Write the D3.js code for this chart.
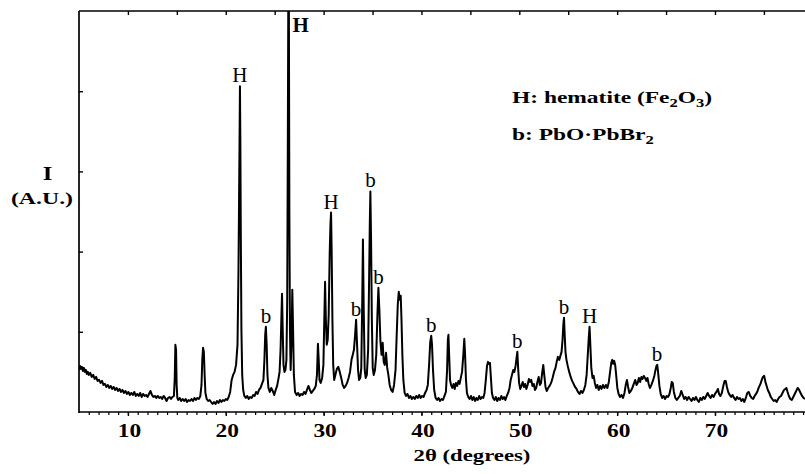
<!DOCTYPE html>
<html><head><meta charset="utf-8">
<script src="https://cdn.jsdelivr.net/npm/d3@7"></script>
<style>body{margin:0;background:#fff}</style>
</head><body><svg id="c" width="805" height="474"></svg>
<script>
// XRD scan: [2theta (deg), intensity (a.u.)]
const scan = [
[5.00,42],[5.10,46],[5.20,43],[5.30,45],[5.40,41],[5.50,44],[5.60,40],[5.70,42],[5.80,38],[5.90,40],
[6.00,37],[6.15,39],[6.30,35],[6.45,37],[6.60,33],[6.75,35],[6.90,31],[7.05,32],[7.20,29],[7.35,31],
[7.50,27],[7.65,28],[7.80,25],[7.95,27],[8.10,24],[8.25,26],[8.40,23],[8.55,25],[8.70,22],[8.85,24],
[9.00,21],[9.15,23],[9.30,20],[9.45,22],[9.60,19],[9.75,21],[9.90,18],[10.05,20],[10.20,17],[10.35,19],
[10.50,17],[10.65,20],[10.80,16],[10.95,18],[11.10,16],[11.25,19],[11.40,15],[11.55,18],[11.70,16],[11.85,17],
[12.00,15],[12.15,18],[12.30,21],[12.45,17],[12.60,15],[12.75,16],[12.90,14],[13.05,16],[13.20,14],[13.35,15],
[13.50,13],[13.65,16],[13.80,14],[13.95,11],[14.10,14],[14.25,15],[14.40,13],[14.55,15],[14.70,16],
[14.78,32],[14.85,67],[14.92,62],[14.98,27],[15.05,14],[15.15,12],[15.30,14],[15.45,11],[15.60,13],[15.75,11],
[15.90,13],[16.05,10],[16.20,12],[16.35,11],[16.50,13],[16.65,11],[16.80,14],[16.95,12],[17.10,14],[17.25,13],
[17.40,16],[17.52,27],[17.60,52],[17.68,64],[17.76,60],[17.84,37],[17.92,19],[18.05,13],[18.20,11],[18.35,12],
[18.50,10],[18.65,8],[18.80,10],[18.95,8],[19.10,11],[19.25,9],[19.40,12],[19.55,10],[19.70,12],[19.85,11],
[20.00,13],[20.15,12],[20.30,15],[20.45,20],[20.60,32],[20.75,37],[20.90,40],[21.05,47],[21.20,67],[21.30,142],
[21.36,212],[21.41,272],[21.45,325],[21.49,272],[21.54,172],[21.60,82],[21.68,37],[21.78,22],[21.90,16],[22.05,14],
[22.20,16],[22.35,13],[22.50,15],[22.65,14],[22.80,17],[22.95,16],[23.10,20],[23.25,18],[23.40,22],[23.55,24],
[23.70,28],[23.85,32],[23.95,52],[24.03,77],[24.10,85],[24.18,67],[24.26,37],[24.36,24],[24.50,20],[24.65,24],
[24.80,21],[24.95,17],[25.10,22],[25.25,26],[25.40,34],[25.50,40],[25.60,62],[25.68,92],[25.75,118],[25.82,82],
[25.90,47],[26.00,40],[26.10,42],[26.20,52],[26.28,112],[26.34,262],[26.39,407],[26.45,407],[26.50,199],[26.56,82],
[26.63,42],[26.72,72],[26.80,122],[26.88,82],[26.96,37],[27.08,20],[27.25,17],[27.40,19],[27.55,16],[27.70,18],
[27.85,17],[28.00,20],[28.15,18],[28.30,22],[28.45,26],[28.60,22],[28.75,19],[28.90,21],[29.05,23],[29.20,26],
[29.32,37],[29.42,68],[29.50,52],[29.58,32],[29.70,29],[29.85,34],[29.98,47],[30.07,92],[30.15,130],[30.23,92],
[30.32,67],[30.42,72],[30.52,97],[30.62,157],[30.70,187],[30.76,199],[30.82,162],[30.90,92],[30.98,47],[31.08,32],
[31.20,37],[31.35,43],[31.50,45],[31.65,40],[31.80,34],[31.95,27],[32.10,24],[32.25,26],[32.40,29],[32.55,34],
[32.70,40],[32.85,52],[32.98,57],[33.10,62],[33.22,77],[33.32,92],[33.42,67],[33.52,42],[33.62,32],[33.75,34],
[33.85,44],[33.95,112],[34.02,172],[34.10,102],[34.20,42],[34.30,34],[34.42,37],[34.55,62],[34.65,132],[34.72,187],
[34.78,220],[34.85,172],[34.93,92],[35.02,44],[35.12,37],[35.25,42],[35.38,57],[35.50,97],[35.60,124],[35.70,102],
[35.80,72],[35.92,57],[36.04,69],[36.14,50],[36.25,47],[36.38,59],[36.50,44],[36.62,37],[36.75,27],[36.90,22],
[37.05,20],[37.20,27],[37.35,42],[37.47,77],[37.58,107],[37.68,120],[37.78,112],[37.88,116],[37.96,92],[38.05,57],
[38.15,32],[38.28,19],[38.42,16],[38.57,18],[38.72,14],[38.87,16],[39.02,13],[39.17,15],[39.32,13],[39.47,16],
[39.62,14],[39.77,17],[39.92,14],[40.07,16],[40.22,15],[40.37,19],[40.52,22],[40.65,27],[40.78,47],[40.90,70],
[41.00,76],[41.08,67],[41.18,42],[41.30,22],[41.45,14],[41.60,12],[41.75,14],[41.90,11],[42.05,13],[42.20,12],
[42.35,16],[42.50,20],[42.62,42],[42.70,72],[42.76,77],[42.83,57],[42.92,32],[43.02,27],[43.15,24],[43.28,28],
[43.40,23],[43.52,29],[43.65,26],[43.78,31],[43.90,28],[44.02,34],[44.15,40],[44.28,57],[44.38,73],[44.46,57],
[44.55,32],[44.65,19],[44.78,15],[44.92,13],[45.06,16],[45.20,12],[45.34,15],[45.48,11],[45.62,14],[45.76,12],
[45.90,16],[46.04,13],[46.18,15],[46.32,14],[46.45,19],[46.58,32],[46.70,46],[46.80,50],[46.90,48],[47.00,49],
[47.10,34],[47.20,19],[47.32,14],[47.46,12],[47.60,15],[47.74,11],[47.88,14],[48.02,12],[48.16,16],[48.30,13],
[48.44,15],[48.58,12],[48.72,16],[48.86,19],[49.00,24],[49.12,32],[49.25,37],[49.38,42],[49.50,40],[49.62,46],
[49.72,54],[49.80,60],[49.88,44],[49.98,29],[50.10,23],[50.22,26],[50.35,30],[50.48,25],[50.60,28],[50.72,23],
[50.85,27],[50.98,33],[51.10,30],[51.22,32],[51.35,26],[51.48,28],[51.60,22],[51.72,24],[51.85,30],[51.98,35],
[52.10,27],[52.22,29],[52.35,40],[52.45,47],[52.55,37],[52.68,25],[52.80,21],[52.95,24],[53.10,26],[53.25,29],
[53.40,34],[53.55,40],[53.70,44],[53.82,50],[53.95,55],[54.08,52],[54.20,56],[54.32,60],[54.42,72],[54.50,87],
[54.57,94],[54.64,77],[54.72,60],[54.82,52],[54.95,46],[55.10,40],[55.25,35],[55.40,31],[55.55,28],[55.70,25],
[55.85,23],[56.00,20],[56.15,18],[56.30,21],[56.45,19],[56.60,22],[56.75,27],[56.88,37],[57.00,57],[57.10,74],
[57.18,85],[57.26,67],[57.36,44],[57.48,34],[57.60,36],[57.72,29],[57.85,24],[57.98,27],[58.12,22],[58.26,26],
[58.40,23],[58.55,27],[58.70,24],[58.85,27],[59.00,24],[59.15,30],[59.28,40],[59.40,49],[59.50,52],[59.60,48],
[59.70,51],[59.80,47],[59.90,37],[60.02,24],[60.15,18],[60.30,15],[60.45,17],[60.60,14],[60.75,19],[60.88,27],
[61.00,32],[61.12,25],[61.25,19],[61.40,21],[61.55,24],[61.70,28],[61.85,32],[61.98,27],[62.10,29],[62.22,34],
[62.35,30],[62.48,35],[62.60,33],[62.72,36],[62.85,34],[62.98,31],[63.10,34],[63.22,28],[63.35,24],[63.50,27],
[63.65,31],[63.80,36],[63.92,42],[64.02,46],[64.10,47],[64.20,38],[64.32,26],[64.45,18],[64.60,14],[64.75,16],
[64.90,13],[65.05,16],[65.20,15],[65.35,18],[65.48,24],[65.58,30],[65.68,29],[65.80,20],[65.95,14],[66.10,12],
[66.25,14],[66.40,16],[66.55,21],[66.70,17],[66.85,13],[67.00,15],[67.15,12],[67.30,15],[67.45,13],[67.60,11],
[67.75,14],[67.90,12],[68.05,15],[68.20,12],[68.35,10],[68.50,14],[68.65,12],[68.80,15],[68.95,13],[69.10,16],
[69.25,19],[69.40,16],[69.55,14],[69.70,17],[69.85,15],[70.00,18],[70.15,20],[70.30,23],[70.42,18],[70.55,16],
[70.70,19],[70.85,26],[70.98,31],[71.10,31],[71.22,25],[71.35,20],[71.50,17],[71.65,15],[71.80,17],[71.95,14],
[72.10,12],[72.25,15],[72.40,13],[72.55,14],[72.70,11],[72.85,13],[73.00,10],[73.15,14],[73.30,19],[73.45,20],
[73.60,16],[73.75,14],[73.90,13],[74.05,16],[74.20,18],[74.35,21],[74.50,25],[74.65,28],[74.78,32],[74.90,35],
[75.03,36],[75.15,30],[75.28,26],[75.40,22],[75.55,19],[75.70,15],[75.85,13],[76.00,11],[76.15,12],[76.30,10],
[76.45,13],[76.60,15],[76.75,16],[76.90,19],[77.05,22],[77.18,23],[77.30,24],[77.42,20],[77.55,16],[77.70,13],
[77.85,12],[78.00,15],[78.15,18],[78.30,21],[78.45,24],[78.60,22],[78.75,19],[78.90,16],[79.05,14],[79.20,13]
];

// Phase labels above peaks
const peakLabelText  = ["H", "H", "H", "b", "b", "b", "b", "b", "b", "b", "H", "b"];
const peakLabelTheta = [21.45, 26.42, 30.76, 34.78, 24.10, 33.32, 35.60, 41.00, 49.80, 54.57, 57.18, 64.08];

const xTickValues = [10, 20, 30, 40, 50, 60, 70];
const yTickValues = [80, 160, 240, 320];

const legendH = ["H: hematite (Fe", "2", "O", "3", ")"];
const legendB = ["b: PbO\u00B7PbBr", "2"];
const xTitle = "2\u03B8 (degrees)";
const yTitle = ["I", "(A.U.)"];

const svg = d3.select("#c");
const L = 79, R = 805, T = 11, B = 412;
const x = d3.scaleLinear().domain([5, 79.2]).range([L, R]);
const y = d3.scaleLinear().domain([0, 400]).range([B, T]);
const serif = "'Liberation Serif','Times New Roman',serif";
const SX = 1.3;

svg.append("defs").append("clipPath").attr("id", "pc")
  .append("rect").attr("x", L).attr("y", T).attr("width", R - L).attr("height", B - T);

// frame lines
svg.append("line").attr("x1", L).attr("x2", R).attr("y1", T).attr("y2", T)
  .attr("stroke", "#000").attr("stroke-width", 1.7);
svg.append("line").attr("x1", L).attr("x2", R).attr("y1", B).attr("y2", B)
  .attr("stroke", "#000").attr("stroke-width", 1.7);
svg.append("line").attr("x1", L).attr("x2", L).attr("y1", T).attr("y2", B + 1)
  .attr("stroke", "#000").attr("stroke-width", 1.7);

// bottom axis: minor ticks every degree, outward
const bottomAx = svg.append("g").attr("transform", `translate(0,${B})`)
  .call(d3.axisBottom(x).tickValues(d3.range(6, 80, 1)).tickSize(3).tickFormat(""));
bottomAx.select(".domain").remove();
bottomAx.selectAll("line").attr("stroke", "#000").attr("stroke-width", 1.2);
const bottomMajor = svg.append("g").attr("transform", `translate(0,${B})`)
  .call(d3.axisBottom(x).tickValues(xTickValues).tickSize(4).tickFormat(""));
bottomMajor.select(".domain").remove();
bottomMajor.selectAll("line").attr("stroke", "#000").attr("stroke-width", 1.4);

// top axis: ticks every 5 degrees, inward
const topAx = svg.append("g").attr("transform", `translate(0,${T})`)
  .call(d3.axisBottom(x).tickValues(d3.range(10, 80, 5)).tickSize(4).tickFormat(""));
topAx.select(".domain").remove();
topAx.selectAll("line").attr("stroke", "#000").attr("stroke-width", 1.4);

// left axis: inward ticks, no labels
const leftAx = svg.append("g").attr("transform", `translate(${L},0)`)
  .call(d3.axisRight(y).tickValues(yTickValues).tickSize(4).tickFormat(""));
leftAx.select(".domain").remove();
leftAx.selectAll("line").attr("stroke", "#000").attr("stroke-width", 1.4);

// x tick labels
svg.append("g").selectAll("text").data(xTickValues).join("text")
  .attr("transform", d => `translate(${x(d) + 1.5},437) scale(${SX},1)`)
  .attr("text-anchor", "middle").attr("font-family", serif).attr("font-weight", "bold")
  .attr("font-size", 18).text(d => d);

// axis titles
svg.append("text").attr("transform", `translate(472,461) scale(${SX},1)`)
  .attr("text-anchor", "middle").attr("font-family", serif).attr("font-weight", "bold")
  .attr("font-size", 17.5).text(xTitle);
svg.append("text").attr("transform", `translate(47.5,180) scale(${SX},1)`)
  .attr("text-anchor", "middle").attr("font-family", serif).attr("font-weight", "bold")
  .attr("font-size", 19).text(yTitle[0]);
svg.append("text").attr("transform", `translate(42,204) scale(1.36,1)`)
  .attr("text-anchor", "middle").attr("font-family", serif).attr("font-weight", "bold")
  .attr("font-size", 17.5).text(yTitle[1]);

// data trace
svg.append("path").datum(scan)
  .attr("clip-path", "url(#pc)")
  .attr("fill", "none").attr("stroke", "#000").attr("stroke-width", 2)
  .attr("stroke-linejoin", "round")
  .attr("d", d3.line().x(d => x(d[0])).y(d => y(d[1])));

// peak labels
const yMax = y.domain()[1];
peakLabelTheta.forEach((t, i) => {
  const near = scan.filter(d => Math.abs(d[0] - t) <= 0.2);
  const m = d3.max(near, d => d[1]);
  const txt = svg.append("text").attr("font-family", serif).attr("font-size", 21)
    .attr("fill", "#000").text(peakLabelText[i]);
  if (m >= yMax) {
    txt.attr("x", x(t) + 4).attr("y", T + 21).attr("text-anchor", "start")
      .attr("font-weight", "bold");
  } else {
    txt.attr("x", x(t)).attr("y", y(m) - 4).attr("text-anchor", "middle");
  }
});

// legend
function legendLine(parts, xs, ys) {
  const t = svg.append("text").attr("transform", `translate(${xs},${ys}) scale(1.38,1)`)
    .attr("font-family", serif).attr("font-weight", "bold").attr("font-size", 17);
  parts.forEach((p, i) => {
    const sub = i % 2 === 1;
    t.append("tspan").attr("font-size", sub ? 12 : 17)
      .attr("dy", sub ? 4 : (i > 0 ? -4 : 0)).text(p);
  });
}
legendLine(legendH, 512, 103);
legendLine(legendB, 512, 140);
</script>
</body></html>
